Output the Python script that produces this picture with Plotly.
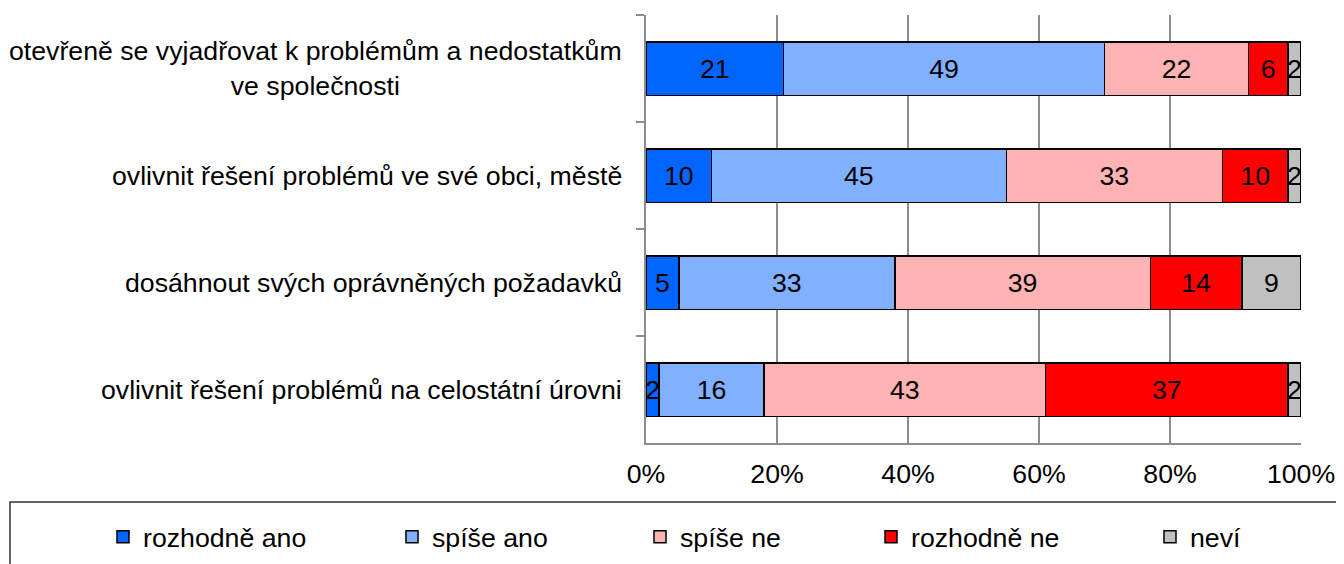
import plotly.graph_objects as go

categories = [
    "otevřeně se vyjadřovat k problémům a nedostatkům<br>ve společnosti",
    "ovlivnit řešení problémů ve své obci, městě",
    "dosáhnout svých oprávněných požadavků",
    "ovlivnit řešení problémů na celostátní úrovni",
]
series_names = ["rozhodně ano", "spíše ano", "spíše ne", "rozhodně ne", "neví"]
rozhodne_ano = [21, 10, 5, 2]
spise_ano = [49, 45, 33, 16]
spise_ne = [22, 33, 39, 43]
rozhodne_ne = [6, 10, 14, 37]
nevi = [2, 2, 9, 2]
series_values = [rozhodne_ano, spise_ano, spise_ne, rozhodne_ne, nevi]
colors = ["#0066FF", "#80B0FF", "#FFB3B3", "#FF0000", "#C0C0C0"]
x_ticks = [0, 20, 40, 60, 80, 100]
x_tick_labels = ["0%", "20%", "40%", "60%", "80%", "100%"]

FONT = "Liberation Sans, Arial, sans-serif"
FS = 26.7
OFF = 8  # default page body margin
W, H = 1344 - OFF, 564 - OFF
L = 646 - OFF
T = 15 - OFF
R = 1344 - 1301
B = 564 - 443
pw, ph = W - L - R, H - T - B

def px_x(p):
    return (p - OFF - L) / pw

def px_y(p):
    return (H - B - (p - OFF)) / ph

legend_text_x = [145, 434, 682, 913, 1192]

fig = go.Figure()
for i, (name, vals, col) in enumerate(zip(series_names, series_values, colors)):
    fig.add_trace(go.Bar(
        y=categories, x=vals, name=name, orientation="h",
        marker=dict(color=col, line=dict(color="black", width=1.5)),
        text=[str(v) for v in vals], textposition="inside",
        insidetextanchor="middle", constraintext="none",
        textfont=dict(color="black", size=FS, family=FONT),
        width=0.5, legend="legend" if i == 0 else f"legend{i+1}",
    ))

legend_common = dict(
    orientation="h", xanchor="left", yanchor="middle",
    font=dict(size=FS, family=FONT, color="black"),
    bgcolor="rgba(0,0,0,0)", borderwidth=0, itemwidth=30,
)
layout_legends = {}
for i, tx in enumerate(legend_text_x):
    key = "legend" if i == 0 else f"legend{i+1}"
    layout_legends[key] = dict(legend_common, x=px_x(tx - 42), y=px_y(537))

fig.update_layout(
    width=W, height=H,
    margin=dict(l=L, r=R, t=T, b=B, autoexpand=False),
    barmode="stack",
    plot_bgcolor="white", paper_bgcolor="white",
    font=dict(family=FONT, size=FS, color="black"),
    showlegend=True,
    **layout_legends,
)
fig.update_xaxes(
    range=[0, 100], tickvals=x_ticks, ticktext=x_tick_labels,
    showgrid=True, gridcolor="#8C8C8C", gridwidth=1.5,
    showline=True, linecolor="#8C8C8C", linewidth=1.5,
    zeroline=False, ticks="", ticklabelstandoff=6, automargin=False,
    tickfont=dict(size=FS, family=FONT, color="black"),
)
fig.update_yaxes(
    categoryorder="array", categoryarray=categories, autorange="reversed",
    showline=True, linecolor="#8C8C8C", linewidth=1.5,
    ticks="outside", tickson="boundaries", ticklen=8, tickcolor="#8C8C8C",
    tickwidth=1.5, showticklabels=False, showgrid=False, automargin=False,
)
for c in categories:
    fig.add_annotation(
        x=0, xref="paper", y=c, yref="y", xanchor="right", yanchor="middle",
        xshift=-22, text=c, showarrow=False, align="center",
        font=dict(size=FS, family=FONT, color="black"),
    )
fig.add_shape(
    type="rect", xref="paper", yref="paper",
    x0=px_x(10), x1=px_x(1360), y0=px_y(502), y1=px_y(580),
    line=dict(color="#333333", width=1.5), fillcolor="rgba(0,0,0,0)",
)
fig.write_html("out.html")
